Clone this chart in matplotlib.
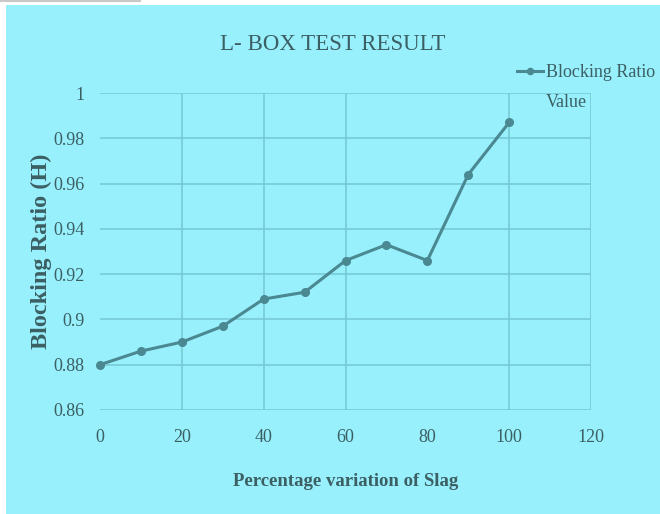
import matplotlib
matplotlib.use("Agg")
import matplotlib.pyplot as plt
from matplotlib.lines import Line2D
from matplotlib.patches import Rectangle

# ---- data ----
slag_pct = [0, 10, 20, 30, 40, 50, 60, 70, 80, 90, 100]
blocking_ratio = [0.880, 0.886, 0.890, 0.897, 0.909, 0.912, 0.926, 0.933, 0.926, 0.964, 0.987]
x_ticks = [0, 20, 40, 60, 80, 100, 120]
y_ticks = [0.86, 0.88, 0.90, 0.92, 0.94, 0.96, 0.98, 1.00]
y_tick_labels = ["0.86", "0.88", "0.9", "0.92", "0.94", "0.96", "0.98", "1"]
title = "L- BOX TEST RESULT"
x_label = "Percentage variation of Slag"
y_label = "Blocking Ratio (H)"
series_label = ["Blocking Ratio", "Value"]

BG = "#98F0FC"
TXT = "#3b5f63"
LINE = "#4a8892"
GRID = "#74c8d4"

plt.rcParams["font.family"] = ["Liberation Serif", "DejaVu Serif"]

W, H = 660, 514
fig = plt.figure(figsize=(W / 100, H / 100), dpi=100)
fig.patch.set_facecolor("white")
fig.patches.append(Rectangle((6 / W, 0), 1 - 6 / W, 1 - 5 / H, transform=fig.transFigure,
                             facecolor=BG, edgecolor="none", zorder=-10))
fig.lines.append(Line2D([0, 140 / W], [1 - 1 / H, 1 - 1 / H], transform=fig.transFigure,
                        color="#c8c8c8", lw=1.5))

left, right, top, bottom = 100, 591, 93, 410
ax = fig.add_axes([left / W, 1 - bottom / H, (right - left) / W, (bottom - top) / H])
ax.set_facecolor("none")

ln, = ax.plot(slag_pct, blocking_ratio, color=LINE, lw=2.2, marker="o", ms=5.5,
              mfc=LINE, mec=LINE, zorder=3, clip_on=False)

ax.set_xlim(0, 120)
ax.set_ylim(0.86, 1.0)
ax.set_xticks(x_ticks)
ax.set_yticks(y_ticks)
ax.set_yticklabels(y_tick_labels)
for s in ax.spines.values():
    s.set_visible(False)
ax.tick_params(length=0, labelsize=13, labelcolor=TXT)
ax.tick_params(axis="y", pad=11)
ax.tick_params(axis="x", pad=14)
ax.grid(True, color=GRID, lw=1.1)
xgl = ax.xaxis.get_gridlines()
for i, xv in enumerate(x_ticks):
    if xv in (0, 80):
        xgl[i].set_visible(False)

fig.text(333 / W, 1 - 45 / H, title, ha="center", va="center", fontsize=16.5, color=TXT)
ax.set_xlabel(x_label, fontsize=13.5, fontweight="bold", color=TXT, labelpad=19)
ax.set_ylabel(y_label, fontsize=17.5, fontweight="bold", color=TXT, labelpad=1)

blank = Line2D([], [], alpha=0)
leg = fig.legend([ln, blank], series_label, loc="upper left",
                 bbox_to_anchor=(517 / W, 1 - 64 / H), frameon=False,
                 fontsize=13, labelcolor=TXT, handlelength=1.45, handletextpad=0.15,
                 borderpad=0, borderaxespad=0, labelspacing=0.7, markerscale=0.8)

fig.savefig("out.png", dpi=100, facecolor=fig.get_facecolor())
